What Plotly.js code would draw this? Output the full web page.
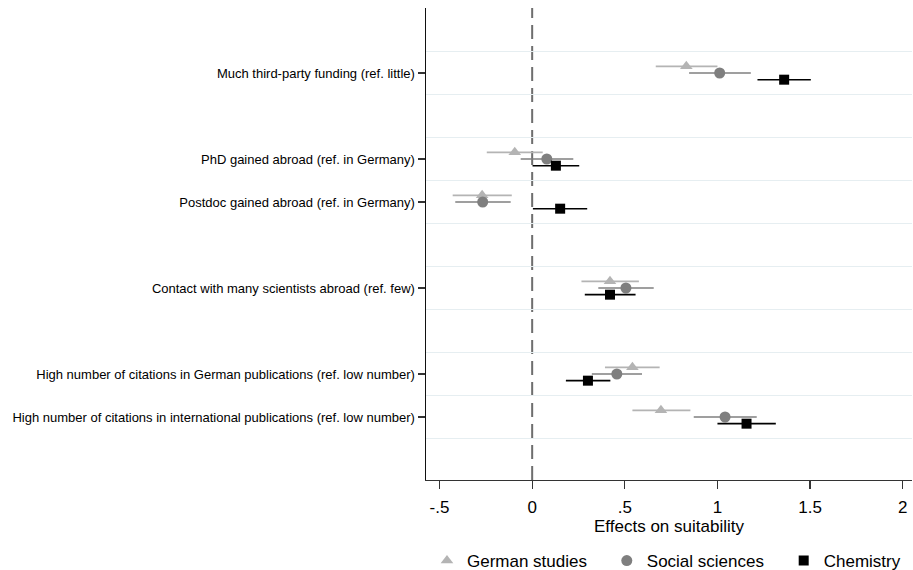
<!DOCTYPE html>
<html>
<head>
<meta charset="utf-8">
<script src="https://cdn.plot.ly/plotly-3.0.1.min.js"></script>
<style>html,body{margin:0;padding:0;background:#fff;}#chart{width:913px;height:570px;}</style>
</head>
<body>
<div id="chart"></div>
<script>
// Rows from top to bottom ("" = empty spacer row)
const rows = ["", "Much third-party funding (ref. little)", "", "PhD gained abroad (ref. in Germany)",
  "Postdoc gained abroad (ref. in Germany)", "", "Contact with many scientists abroad (ref. few)", "",
  "High number of citations in German publications (ref. low number)",
  "High number of citations in international publications (ref. low number)", ""];
const categories = rows.filter(r => r !== "");

const seriesNames = ["German studies", "Social sciences", "Chemistry"];

const germanEst = [0.832, -0.094, -0.270, 0.420, 0.541, 0.695];
const germanLo  = [0.667, -0.245, -0.429, 0.266, 0.393, 0.541];
const germanHi  = [1.000,  0.057, -0.110, 0.576, 0.688, 0.854];

const socialEst = [1.012,  0.079, -0.267, 0.506, 0.457, 1.041];
const socialLo  = [0.847, -0.062, -0.415, 0.357, 0.322, 0.872];
const socialHi  = [1.180,  0.222, -0.116, 0.656, 0.593, 1.212];

const chemEst = [1.360, 0.128, 0.151, 0.420, 0.301, 1.157];
const chemLo  = [1.216, 0.002, 0.004, 0.284, 0.182, 1.000];
const chemHi  = [1.504, 0.254, 0.297, 0.558, 0.422, 1.315];

const xTickVals = [-0.5, 0, 0.5, 1, 1.5, 2];
const xTickText = ["-.5", "0", ".5", "1", "1.5", "2"];

const est = [germanEst, socialEst, chemEst];
const lo = [germanLo, socialLo, chemLo];
const hi = [germanHi, socialHi, chemHi];
const colors = ["#b4b4b4", "#7f7f7f", "#000000"];
const symbols = ["triangle-up", "circle", "square"];
const sizes = [11, 11, 10];
const offsets = [-0.155, 0, 0.155];
const legendIds = ["legend", "legend2", "legend3"];
const legendX = [0.002, 0.372, 0.736];

const rowPos = categories.map(c => rows.indexOf(c));

const traces = seriesNames.map((name, s) => ({
  type: "scatter",
  mode: "markers",
  name: name,
  legend: legendIds[s],
  x: est[s],
  y: rowPos.map(p => p + offsets[s]),
  error_x: {
    type: "data", symmetric: false,
    array: est[s].map((v, i) => hi[s][i] - v),
    arrayminus: est[s].map((v, i) => v - lo[s][i]),
    color: colors[s], thickness: 1.6, width: 0
  },
  marker: {symbol: symbols[s], size: sizes[s], color: colors[s], line: {width: 0}},
  cliponaxis: false,
  hoverinfo: "x+name"
}));

const gridVals = [];
for (let i = 0; i < rows.length - 1; i++) gridVals.push(i + 0.5);

const layout = {
  width: 913, height: 570,
  margin: {l: 426, r: 1, t: 8, b: 90, autoexpand: false},
  paper_bgcolor: "#fff", plot_bgcolor: "#fff",
  font: {family: "Liberation Sans, Arial, sans-serif", color: "#000"},
  showlegend: true,
  xaxis: {
    range: [-0.573, 2.05],
    tickvals: xTickVals, ticktext: xTickText,
    ticks: "outside", ticklen: 8, tickwidth: 1.2, tickcolor: "#333",
    ticklabelstandoff: 3,
    showline: true, linecolor: "#333", linewidth: 1.3,
    showgrid: false, zeroline: false,
    tickfont: {size: 17, color: "#000"},
    title: {text: "Effects on suitability", font: {size: 17, color: "#000"}, standoff: 0}
  },
  yaxis: {
    range: [10.465, -0.512],
    tickvals: rowPos, ticktext: categories,
    ticks: "outside", ticklen: 7, tickwidth: 1.2, tickcolor: "#333",
    showline: true, linecolor: "#111", linewidth: 1.5,
    showgrid: false, zeroline: false,
    tickfont: {size: 13, color: "#000"},
    minor: {tickvals: gridVals, showgrid: true, gridcolor: "#e6eef1", gridwidth: 1.5, ticks: ""}
  },
  shapes: [{
    type: "line", xref: "x", yref: "paper", x0: 0, x1: 0, y0: 0, y1: 1,
    line: {color: "#6e6e6e", width: 2, dash: "14px,7px"}, layer: "below"
  }]
};
legendIds.forEach((id, s) => {
  layout[id] = {
    orientation: "h", x: legendX[s], xanchor: "left", y: -0.1716, yanchor: "middle",
    font: {size: 17, color: "#000"}, bgcolor: "rgba(0,0,0,0)"
  };
});

Plotly.newPlot("chart", traces, layout, {displayModeBar: false, staticPlot: true});
</script>
</body>
</html>
